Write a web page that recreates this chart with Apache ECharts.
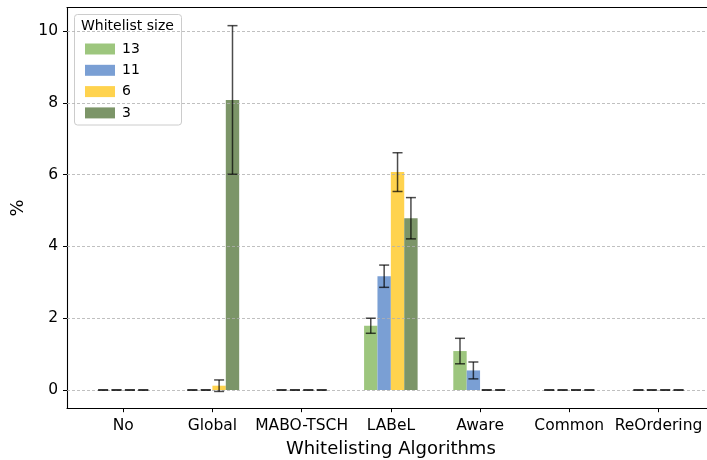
<!DOCTYPE html>
<html>
<head>
<meta charset="utf-8">
<script src="https://cdn.jsdelivr.net/npm/echarts@6/dist/echarts.min.js"></script>
<style>
  html, body { margin: 0; padding: 0; background: #fff; }
  #chart { width: 707px; height: 460px; }
</style>
</head>
<body>
<div id="chart"></div>
<script>
// Whitelisting algorithms: mean percentage per whitelist size, with error bars
const categories = ['No', 'Global', 'MABO-TSCH', 'LABeL', 'Aware', 'Common', 'ReOrdering'];
const sizes = ['13', '11', '6', '3'];

const means13 = [0, 0, 0, 1.79, 1.085, 0, 0];
const means11 = [0, 0, 0, 3.17, 0.545, 0, 0];
const means6  = [0, 0.12, 0, 6.07, 0, 0, 0];
const means3  = [0, 8.08, 0, 4.785, 0, 0, 0];

const err13 = [0, 0, 0, 0.21, 0.355, 0, 0];
const err11 = [0, 0, 0, 0.31, 0.235, 0, 0];
const err6  = [0, 0.16, 0, 0.54, 0, 0, 0];
const err3  = [0, 2.07, 0, 0.575, 0, 0, 0];

const yTicks = [0, 2, 4, 6, 8, 10];

const colors = ['#9dc67e', '#7a9fd4', '#ffd34e', '#7c9568'];
const means = [means13, means11, means6, means3];
const errs = [err13, err11, err6, err3];

const BAR_W = 0.15;
const offsets = [-1.5, -0.5, 0.5, 1.5].map(k => k * BAR_W);
const FONT = 'DejaVu Sans';
const X_MIN = -0.63, X_MAX = 6.63;
const Y_MIN = -0.507, Y_MAX = 10.65;

function barSeries(k) {
  return {
    name: sizes[k],
    type: 'custom',
    z: 3,
    itemStyle: { color: colors[k] },
    data: categories.map((c, i) => [i, means[k][i]]),
    renderItem: function (params, api) {
      const x = api.value(0) + offsets[k];
      const v = api.value(1);
      const p0 = api.coord([x - BAR_W / 2, v]);
      const p1 = api.coord([x + BAR_W / 2, 0]);
      return {
        type: 'rect',
        shape: { x: p0[0], y: p0[1], width: p1[0] - p0[0], height: p1[1] - p0[1] },
        style: { fill: colors[k] }
      };
    }
  };
}

function errorSeries(k) {
  return {
    name: 'err' + sizes[k],
    type: 'custom',
    z: 5,
    silent: true,
    data: categories.map((c, i) => [i, means[k][i], errs[k][i]]),
    renderItem: function (params, api) {
      const x = api.value(0) + offsets[k];
      const v = api.value(1);
      const e = api.value(2);
      const top = api.coord([x, v + e]);
      const bot = api.coord([x, v - e]);
      const cap = 5;
      const st = { stroke: 'rgba(0,0,0,0.7)', lineWidth: 1.5 };
      return {
        type: 'group',
        children: [
          { type: 'line', shape: { x1: top[0], y1: top[1], x2: bot[0], y2: bot[1] }, style: st },
          { type: 'line', shape: { x1: top[0] - cap, y1: top[1], x2: top[0] + cap, y2: top[1] }, style: st },
          { type: 'line', shape: { x1: bot[0] - cap, y1: bot[1], x2: bot[0] + cap, y2: bot[1] }, style: st }
        ]
      };
    }
  };
}

const chart = echarts.init(document.getElementById('chart'), null, { renderer: 'canvas' });

const spine = { color: '#000', width: 1.1 };

const option = {
  backgroundColor: '#ffffff',
  animation: false,
  textStyle: { fontFamily: FONT },
  grid: {
    left: 67, top: 7.7, width: 647.7, height: 400.5,
    outerBoundsMode: 'none',
    containLabel: false,
    show: false
  },
  xAxis: [
    {
      type: 'value',
      position: 'bottom',
      min: X_MIN, max: X_MAX,
      name: 'Whitelisting Algorithms',
      nameLocation: 'middle',
      nameGap: 32,
      nameTextStyle: { fontFamily: FONT, fontSize: 18, color: '#000' },
      axisLine: { show: true, onZero: false, lineStyle: spine },
      splitLine: { show: false },
      axisTick: {
        show: true, length: 4, lineStyle: { color: '#000', width: 1 },
        customValues: categories.map((c, i) => i)
      },
      axisLabel: {
        customValues: categories.map((c, i) => i),
        formatter: v => categories[Math.round(v)],
        fontFamily: FONT, fontSize: 15.5, color: '#000', margin: 10
      }
    },
    {
      // top frame line
      type: 'value',
      position: 'top',
      min: X_MIN, max: X_MAX,
      axisLine: { show: true, onZero: false, lineStyle: spine },
      axisTick: { show: false },
      axisLabel: { show: false },
      splitLine: { show: false }
    }
  ],
  yAxis: {
    type: 'value',
    min: Y_MIN, max: Y_MAX,
    name: '%',
    nameLocation: 'middle',
    nameRotate: 90,
    nameGap: 37,
    nameTextStyle: { fontFamily: FONT, fontSize: 18, color: '#000' },
    axisLine: { show: true, onZero: false, lineStyle: spine },
    splitLine: { show: false },
    axisTick: {
      show: true, length: 4, lineStyle: { color: '#000', width: 1 },
      customValues: yTicks
    },
    axisLabel: {
      customValues: yTicks,
      fontFamily: FONT, fontSize: 15.5, color: '#000', margin: 9
    }
  },
  legend: {
    orient: 'vertical',
    left: 80, top: 36,
    itemWidth: 30, itemHeight: 11,
    itemGap: 5.3,
    icon: 'rect',
    selectedMode: false,
    z: 6,
    textStyle: { fontFamily: FONT, fontSize: 14, color: '#000', lineHeight: 16, padding: [0, 0, 0, 2] },
    data: sizes.map((s, k) => ({ name: s, itemStyle: { color: colors[k] } }))
  },
  graphic: [
    {
      type: 'rect', z: 4,
      shape: { x: 74.5, y: 14.5, width: 107, height: 110.5, r: 3 },
      style: { fill: 'rgba(255,255,255,0.85)', stroke: '#cccccc', lineWidth: 1 }
    },
    {
      type: 'text', z: 6,
      style: { x: 81, y: 26.5, text: 'Whitelist size', fill: '#000',
               font: '14px "DejaVu Sans"', verticalAlign: 'middle', align: 'left' }
    }
  ],
  series: [
    {
      // dashed horizontal gridlines at the y ticks
      type: 'line', data: [], z: 1, silent: true,
      markLine: {
        silent: true, symbol: 'none', label: { show: false },
        lineStyle: { color: '#b0b0b0', type: [3, 2], width: 0.8 },
        data: yTicks.map(t => ({ yAxis: t }))
      }
    },
    ...sizes.map((s, k) => barSeries(k)),
    ...sizes.map((s, k) => errorSeries(k))
  ]
};

chart.setOption(option);
</script>
</body>
</html>
